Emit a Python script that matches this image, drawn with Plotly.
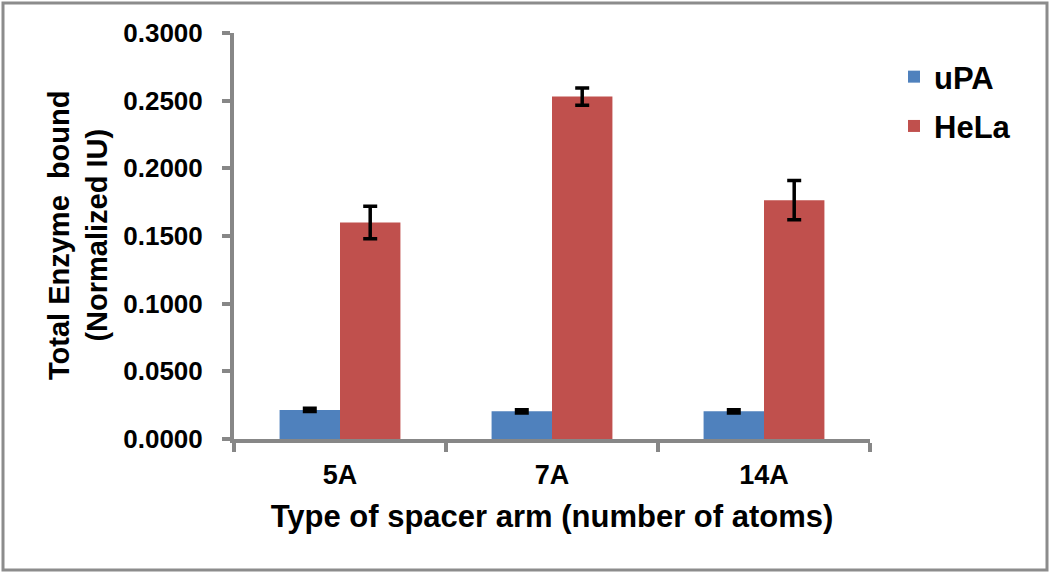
import plotly.graph_objects as go

# Data
categories = ['5A', '7A', '14A']
upa_values = [0.0215, 0.0205, 0.0205]
upa_errors = [0.0012, 0.0012, 0.0012]
hela_values = [0.1600, 0.2530, 0.1765]
hela_errors = [0.0120, 0.0064, 0.0145]
y_ticks = [0.0, 0.05, 0.10, 0.15, 0.20, 0.25, 0.30]

FONT = 'Liberation Sans, Arial, sans-serif'
AXIS_GRAY = '#878787'

W, H = 1050, 574
ML, MR, MT, MB = 234, 180, 33, 135
PW, PH = W - ML - MR, H - MT - MB

fig = go.Figure()

fig.add_trace(go.Bar(
    x=categories, y=upa_values, name='uPA', legendgroup='upa',
    marker=dict(color='#4F81BD', line=dict(width=0)),
    error_y=dict(type='data', array=upa_errors, color='black', thickness=3.5, width=7),
))
fig.add_trace(go.Bar(
    x=categories, y=hela_values, name='HeLa', legendgroup='hela',
    marker=dict(color='#C0504D', line=dict(width=0)),
    error_y=dict(type='data', array=hela_errors, color='black', thickness=3.5, width=7),
))

# y axis title as rotated annotation
fig.add_annotation(
    text='Total Enzyme  bound<br>(Normalized IU)',
    xref='paper', yref='paper',
    x=(78 - ML) / PW, y=0.5, xanchor='center', yanchor='middle', textangle=-90,
    showarrow=False, font=dict(family=FONT, size=29, color='black', weight='bold'),
)

# outer border of the whole picture
fig.add_shape(
    type='rect', xref='paper', yref='paper',
    x0=(3 - ML) / PW, x1=(1047 - ML) / PW,
    y0=(H - MB - 570) / PH, y1=(H - MB - 3) / PH,
    line=dict(color='#8c8c8c', width=3),
)

fig.update_layout(
    width=W, height=H,
    margin=dict(l=ML, r=MR, t=MT, b=MB),
    paper_bgcolor='white', plot_bgcolor='white',
    barmode='group', bargap=0.43, bargroupgap=0,
    font=dict(family=FONT, color='black'),
    showlegend=True,
    legend=dict(
        x=(894 - ML) / PW, y=(H - MB - 50) / PH,
        xanchor='left', yanchor='top',
        font=dict(family=FONT, size=31, color='black', weight='bold'),
        itemwidth=30, tracegroupgap=6,
        bgcolor='rgba(0,0,0,0)',
    ),
    xaxis=dict(
        title=dict(text='Type of spacer arm (number of atoms)',
                   font=dict(family=FONT, size=31, color='black', weight='bold'), standoff=17),
        tickfont=dict(family=FONT, size=27, color='black', weight='bold'),
        showline=True, linecolor=AXIS_GRAY, linewidth=4,
        ticks='outside', tickson='boundaries', ticklen=9, tickwidth=4, tickcolor=AXIS_GRAY,
        showgrid=False, ticklabelstandoff=9,
    ),
    yaxis=dict(
        range=[0, 0.3], tickvals=y_ticks, tickformat='.4f',
        tickfont=dict(family=FONT, size=26, color='black', weight='bold'),
        showline=True, linecolor=AXIS_GRAY, linewidth=4,
        ticks='outside', ticklen=8, tickwidth=4, tickcolor=AXIS_GRAY,
        showgrid=False, zeroline=False, ticklabelstandoff=14,
    ),
)

# drop the default page margin so the figure sits at the window corner
fig.write_html('out.html', config={'displayModeBar': False},
               post_script="document.body.style.margin='0';")
